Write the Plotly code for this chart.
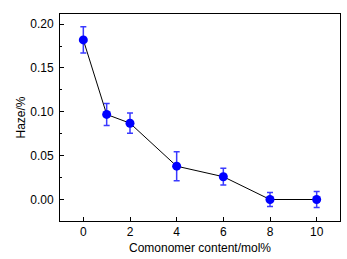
import plotly.graph_objects as go

comonomer = [0, 1, 2, 4, 6, 8, 10]
haze = [0.182, 0.097, 0.087, 0.038, 0.026, 0.000, 0.000]
haze_err = [0.015, 0.0125, 0.0115, 0.0165, 0.0095, 0.008, 0.009]
x_ticks = [0, 2, 4, 6, 8, 10]
y_ticks = [0.00, 0.05, 0.10, 0.15, 0.20]

fig = go.Figure()
fig.add_trace(go.Scatter(
    x=comonomer, y=haze, mode="lines+markers",
    line=dict(color="black", width=1),
    marker=dict(color="#0000ff", size=9, symbol="circle"),
    error_y=dict(type="data", array=haze_err, visible=True, color="#3a3aff", thickness=1.5, width=3),
    showlegend=False,
))

font = dict(family="Liberation Sans, Arial, sans-serif", size=12, color="black")
fig.update_layout(
    width=347, height=259,
    margin=dict(l=60, r=7, t=14, b=38),
    paper_bgcolor="white", plot_bgcolor="white",
    font=font,
    xaxis=dict(
        range=[-1, 11], tickvals=x_ticks, ticktext=[str(v) for v in x_ticks],
        ticks="inside", ticklen=4, tickcolor="black", showgrid=False, zeroline=False,
        showline=True, linecolor="black", linewidth=1, mirror=True, automargin=False,
        title=dict(text="Comonomer content/mol%", standoff=5, font=font),
    ),
    yaxis=dict(
        range=[-0.0245, 0.2115], tickvals=y_ticks, ticktext=[f"{v:.2f}" for v in y_ticks],
        ticks="inside", ticklen=4, tickcolor="black", showgrid=False, zeroline=False,
        showline=True, linecolor="black", linewidth=1, mirror=True, automargin=False,
        ticklabelstandoff=3,
        minor=dict(ticks="inside", ticklen=2, tickcolor="black", dtick=0.025, tick0=0.025),
        title=dict(text="Haze/%", standoff=2, font=font),
    ),
)
fig.write_html(
    "out.html",
    config={"displayModeBar": False},
    post_script="document.body.style.margin='0';document.body.style.overflow='hidden';",
)
